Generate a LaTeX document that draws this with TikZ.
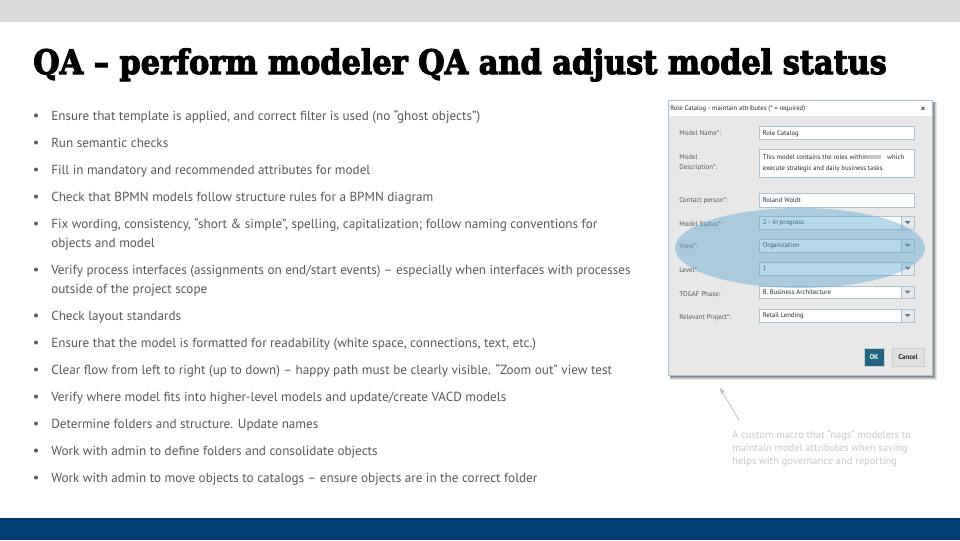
\documentclass[tikz,border=0pt]{standalone}
\usepackage{fontspec}
\setmainfont{PT Sans}
\newfontfamily\titlefont[FakeBold=3.2]{DejaVu Serif Condensed Bold}
\usetikzlibrary{arrows.meta}
\definecolor{topbar}{HTML}{D9D9D9}
\definecolor{navy}{HTML}{003D70}
\definecolor{bodytxt}{HTML}{595959}
\definecolor{notetxt}{HTML}{C8C8C8}
\definecolor{dlgbg}{HTML}{E8E8E8}
\definecolor{fieldedge}{HTML}{A9C3D3}
\definecolor{lbl}{HTML}{555555}
\definecolor{dlgtxt}{HTML}{1F2A32}
\definecolor{oval}{HTML}{5FA9D3}
\definecolor{okblue}{HTML}{1F6485}
\definecolor{ddarrow}{HTML}{4A7F9F}
\tikzset{
  x=0.75pt,y=-0.75pt,
  bul/.style={circle,fill=bodytxt,inner sep=0pt,minimum size=3pt},
  item/.style={anchor=base west,inner sep=0pt,text=bodytxt,font=\fontsize{9.87pt}{14.25pt}\selectfont,align=left},
  lab/.style={anchor=base west,inner sep=0pt,text=lbl,font=\fontsize{5.2pt}{7.2pt}\selectfont,align=left},
  val/.style={anchor=base west,inner sep=0pt,text=dlgtxt,font=\fontsize{5pt}{7.4pt}\selectfont,align=left},
  field/.style={draw=fieldedge,line width=0.7pt,fill=white},
  ddbtn/.style={draw=fieldedge,line width=0.7pt,fill=dlgbg},
  btnlab/.style={inner sep=0pt,font=\bfseries\fontsize{5.2pt}{6pt}\selectfont},
}
\newcommand{\combo}[3]{% y1, y2, text
  \draw[field] (759,#1) rectangle (901,#2);
  \draw[ddbtn] (901,#1) rectangle (914,#2);
  \fill[ddarrow] (904.5,{(#1+#2)/2-1.5}) -- (910.5,{(#1+#2)/2-1.5}) -- (907.5,{(#1+#2)/2+1.5}) -- cycle;
  \node[val] at (762.5,{(#1+#2)/2+2}) {#3};
}
\begin{document}
\begin{tikzpicture}
\useasboundingbox (0,0) rectangle (960,540);
\fill[white] (0,0) rectangle (960,540);
\fill[topbar] (0,0) rectangle (960,22);
\fill[navy] (0,518) rectangle (960,540);
\node (title) [anchor=base west,inner sep=0pt,text=black,font=\titlefont\fontsize{25.3pt}{30pt}\selectfont] at (33,74) {QA – perform modeler QA and adjust model status};

% bullets
\foreach \yy/\txt in {
 120/{Ensure that template is applied, and correct filter is used (no “ghost objects”)},
 147/{Run semantic checks},
 174/{Fill in mandatory and recommended attributes for model},
 201/{Check that BPMN models follow structure rules for a BPMN diagram},
 320/{Check layout standards},
 347/{Ensure that the model is formatted for readability (white space, connections, text, etc.)},
 374/{Clear flow from left to right (up to down) – happy path must be clearly visible. “Zoom out” view test},
 401/{Verify where model fits into higher-level models and update/create VACD models},
 428/{Determine folders and structure. Update names},
 455/{Work with admin to define folders and consolidate objects},
 482/{Work with admin to move objects to catalogs – ensure objects are in the correct folder}}
{
 \node[bul] at (36,\yy-4.5) {};
 \node[item] at (51,\yy) {\txt};
}
\node[bul] at (36,223.5) {};
\node[item] at (51,247) {Fix wording, consistency, “short \& simple”, spelling, capitalization; follow naming conventions for\\objects and model};
\node[bul] at (36,269.5) {};
\node[item] at (51,293) {Verify process interfaces (assignments on end/start events) – especially when interfaces with processes\\outside of the project scope};

% dialog
\foreach \d/\o in {5/0.10,4/0.12,3/0.16,2/0.2} {
  \fill[black,fill opacity=\o] (670,102) rectangle (932+\d,375+\d);
}
\draw[fill=dlgbg,draw=fieldedge,line width=0.7pt] (668,100) rectangle (932,375);
\fill[white] (668.5,100.5) rectangle (931.5,116);
\node[val] at (670,110) {Role Catalog - maintain attributes (* = required)};
\node[val,font=\fontsize{8pt}{9pt}\selectfont] at (920,112) {×};

\node[lab] at (679,135) {Model Name*:};
\node[lab] at (679,169) {Model\\Description*:};
\node[lab] at (679,202) {Contact person*:};
\node[lab] at (679,226) {Model Status*:};
\node[lab] at (679,248) {View*:};
\node[lab] at (679,272) {Level*:};
\node[lab] at (679,296) {TOGAF Phase:};
\node[lab] at (679,319) {Relevant Project*:};

\draw[field] (759,126) rectangle (914,139);
\node[val] at (762.5,135) {Role Catalog};
\draw[field] (759,149) rectangle (914,177);
\node[val,font=\fontsize{5.05pt}{7.6pt}\selectfont] at (762.5,170) {This model contains the roles within\hspace{14.5pt}which\\execute strategic and daily business tasks.};
\fill[black!22] (867,155) rectangle (881,159);
\draw[field] (759,193) rectangle (914,207);
\node[val] at (762.5,202) {Roland Woldt};
\combo{216}{229}{2 - In progress}
\combo{239}{252}{Organization}
\combo{262}{275}{1}
\combo{286}{298}{B. Business Architecture}
\combo{309}{322}{Retail Lending}

\fill[okblue,draw=black!20] (864,348) rectangle (884,366);
\node[btnlab,text=white] at (874,357) {OK};
\fill[black!12,draw=black!20] (892,348) rectangle (924,366);
\node[btnlab,text=dlgtxt] at (908,357) {Cancel};

\fill[oval,fill opacity=0.45] (800,248) ellipse [x radius=125,y radius=40];

% note
\coordinate (notetail) at (739,420);
\coordinate (notehead) at (720,388);
\draw[-{Stealth[length=5pt,width=3.5pt]},draw=black!28,line width=0.5pt] (notetail) -- (notehead);
\node (note) [anchor=base west,inner sep=0pt,text=notetxt,font=\fontsize{7.85pt}{9.75pt}\selectfont,align=left] at (732,464) {A custom macro that “nags” modelers to\\maintain model attributes when saving\\helps with governance and reporting};
\end{tikzpicture}
\end{document}
